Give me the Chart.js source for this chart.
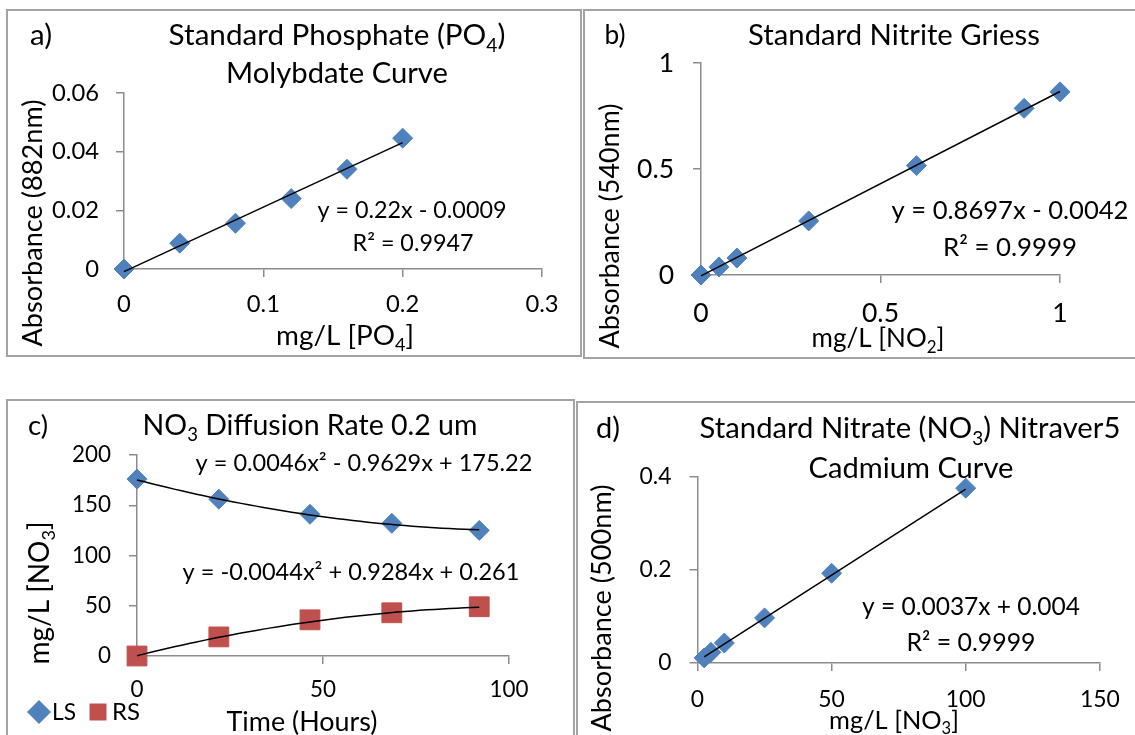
<!DOCTYPE html>
<html>
<head>
<meta charset="utf-8">
<script src="https://cdn.jsdelivr.net/npm/chart.js@4.4.0/dist/chart.umd.min.js"></script>
<style>
  body { margin: 0; background: #fff; width: 1135px; height: 735px; overflow: hidden; position: relative; }
  .panel { position: absolute; border: 2px solid #a3a3a3; box-sizing: border-box; }
  canvas { position: absolute; }
</style>
</head>
<body>
<div class="panel" style="left:6px;top:9px;width:576px;height:348px"></div>
<div class="panel" style="left:583px;top:9px;width:600px;height:350px"></div>
<div class="panel" style="left:6px;top:399px;width:569px;height:400px"></div>
<div class="panel" style="left:576px;top:401px;width:600px;height:400px"></div>
<canvas id="chartA" width="576" height="348" style="left:6px;top:9px"></canvas>
<canvas id="chartB" width="552" height="350" style="left:583px;top:9px"></canvas>
<canvas id="chartC" width="569" height="336" style="left:6px;top:399px"></canvas>
<canvas id="chartD" width="559" height="334" style="left:576px;top:401px"></canvas>
<script>
// a) phosphate standard
const phosphateConc = [0, 0.04, 0.08, 0.12, 0.16, 0.2];
const phosphateAbs = [0, 0.0088, 0.0156, 0.024, 0.034, 0.0446];
const phosphateFit = [0.22, -0.0009];
// b) nitrite standard
const nitriteConc = [0, 0.05, 0.1, 0.3, 0.6, 0.9, 1];
const nitriteAbs = [0, 0.038, 0.08, 0.255, 0.516, 0.786, 0.864];
const nitriteFit = [0.8697, -0.0042];
// c) diffusion
const diffusionHours = [0, 22, 46.5, 68.5, 92];
const lsNitrate = [176, 156, 141, 132, 125];
const rsNitrate = [0, 19, 36, 43, 49];
const lsFit = [0.0046, -0.9629, 175.22];
const rsFit = [-0.0044, 0.9284, 0.261];
// d) nitrate standard
const nitrateConc = [2.5, 5, 10, 25, 50, 100];
const nitrateAbs = [0.011, 0.023, 0.043, 0.097, 0.193, 0.376];
const nitrateFit = [0.0037, 0.004];

const BLUE = '#4f81bd';
const RED = '#c0504d';
const AXIS = '#8c8c8c';
Chart.defaults.font.family = 'Lato';
Chart.defaults.color = '#000';

const pts = (xs, ys) => xs.map((x, i) => ({ x: x, y: ys[i] }));
const linePts = (fit, x0, x1) => [x0, x1].map(x => ({ x: x, y: fit[0] * x + fit[1] }));
const quadPts = (fit, x0, x1) => {
  const out = [];
  for (let x = x0; x <= x1; x += 2) out.push({ x: x, y: fit[0] * x * x + fit[1] * x + fit[2] });
  return out;
};

// font size that makes a string (with _N subscripts) span a given width
const meter = document.createElement('canvas').getContext('2d');
function fitSize(str, width) {
  let w = 0;
  str.split(/_(\d)/).forEach((p, i) => {
    meter.font = (i % 2 ? 65 : 100) + 'px Lato';
    w += meter.measureText(p).width;
  });
  return 100 * width / w;
}

// text with _N subscripts, centred at x,y
function drawRich(ctx, str, x, y, size, rot) {
  const parts = str.split(/_(\d)/);
  const fontN = size + 'px Lato', fontS = (size * 0.65) + 'px Lato';
  let total = 0;
  parts.forEach((p, i) => { ctx.font = i % 2 ? fontS : fontN; total += ctx.measureText(p).width; });
  ctx.save();
  ctx.translate(x, y);
  if (rot) ctx.rotate(rot);
  ctx.fillStyle = '#000';
  ctx.textBaseline = 'alphabetic';
  let cx = -total / 2;
  const base = size * 0.35;
  parts.forEach((p, i) => {
    ctx.font = i % 2 ? fontS : fontN;
    ctx.fillText(p, cx, i % 2 ? base + size * 0.22 : base);
    cx += ctx.measureText(p).width;
  });
  ctx.restore();
}

// [text, centre x, centre y, width, rotation] in page pixels
const notes = (ox, oy, items) => ({
  id: 'notes',
  afterDraw(chart) {
    items.forEach(it => drawRich(chart.ctx, it[0], it[1] - ox, it[2] - oy, fitSize(it[0], it[3]), it[4]));
  }
});

const tickText = v => String(Math.round(v * 1e6) / 1e6);
function xAxis(min, max, step, height, labelOffset, size) {
  return {
    type: 'linear', min: min, max: max,
    ticks: { stepSize: step, padding: labelOffset - 8 - 0.6 * size, font: { size: size }, callback: tickText },
    grid: { drawOnChartArea: false, tickLength: 8, color: AXIS, lineWidth: 1.5 },
    border: { color: AXIS, width: 1.5 },
    afterFit: s => { s.height = height; }
  };
}
function yAxis(min, max, step, width, pad, size) {
  return {
    type: 'linear', min: min, max: max,
    ticks: { stepSize: step, padding: pad, font: { size: size }, callback: tickText },
    grid: { drawOnChartArea: false, tickLength: 8, color: AXIS, lineWidth: 1.5 },
    border: { color: AXIS, width: 1.5 },
    afterFit: s => { s.width = width; }
  };
}
const markers = (label, data, color, style, r) => ({
  label: label, data: data, pointStyle: style, pointRadius: r, pointHoverRadius: r,
  backgroundColor: color, borderColor: color, borderWidth: 1, showLine: false, clip: false
});
const fitLine = data => ({
  label: '', data: data, showLine: true, pointRadius: 0, borderColor: '#000',
  borderWidth: 1.5, clip: false, tension: 0
});
const basePlugins = { legend: { display: false }, tooltip: { enabled: false } };

// legend of panel c: [dataset index, marker x, marker y, radius]
const legendC = {
  id: 'legendC',
  afterDraw(chart) {
    const ctx = chart.ctx;
    [[2, 39, 712, 12], [3, 98, 712, 12]].forEach(e => {
      const ds = chart.data.datasets[e[0]];
      ctx.save();
      ctx.fillStyle = ds.backgroundColor;
      Chart.helpers.drawPoint(ctx, { pointStyle: ds.pointStyle, radius: e[3], borderWidth: 0, rotation: 0 }, e[1] - 6, e[2] - 399);
      ctx.restore();
    });
  }
};

let ts = fitSize('0.06', 47);
new Chart(document.getElementById('chartA'), {
  type: 'scatter',
  data: { datasets: [
    fitLine(linePts(phosphateFit, 0, 0.2)),
    markers('PO4', pts(phosphateConc, phosphateAbs), BLUE, 'rectRot', 10)
  ] },
  options: {
    responsive: false, animation: false, events: [],
    layout: { padding: { left: 0, top: 84, right: 40, bottom: 0 } },
    scales: { x: xAxis(0, 0.3, 0.1, 88, 35, ts), y: yAxis(0, 0.06, 0.02, 118, 17, ts) },
    plugins: basePlugins
  },
  plugins: [notes(6, 9, [
    ['a)', 41, 35, 22],
    ['Standard Phosphate (PO_4)', 337, 35, 337],
    ['Molybdate Curve', 337, 73, 222],
    ['y = 0.22x - 0.0009', 412, 210, 189],
    ['R² = 0.9947', 413, 243, 121],
    ['Absorbance (882nm)', 33, 223, 247, -Math.PI / 2],
    ['mg/L [PO_4]', 345, 335, 138]
  ])]
});

ts = fitSize('0.5', 37);
new Chart(document.getElementById('chartB'), {
  type: 'scatter',
  data: { datasets: [
    fitLine(linePts(nitriteFit, 0, 1)),
    markers('NO2', pts(nitriteConc, nitriteAbs), BLUE, 'rectRot', 10)
  ] },
  options: {
    responsive: false, animation: false, events: [],
    layout: { padding: { left: 0, top: 54, right: 75, bottom: 0 } },
    scales: { x: xAxis(0, 1, 0.5, 84, 38, ts), y: yAxis(0, 1, 0.5, 118, 19, ts) },
    plugins: basePlugins
  },
  plugins: [notes(583, 9, [
    ['b)', 615, 35, 21],
    ['Standard Nitrite Griess', 894, 35, 292],
    ['y = 0.8697x - 0.0042', 1010, 210, 237],
    ['R² = 0.9999', 1010, 247, 134],
    ['Absorbance (540nm)', 610, 226, 245, -Math.PI / 2],
    ['mg/L [NO_2]', 878, 338, 133]
  ])]
});

ts = fitSize('200', 39);
new Chart(document.getElementById('chartC'), {
  type: 'scatter',
  data: { datasets: [
    fitLine(quadPts(lsFit, 0, 92)),
    fitLine(quadPts(rsFit, 0, 92)),
    markers('LS', pts(diffusionHours, lsNitrate), BLUE, 'rectRot', 10),
    markers('RS', pts(diffusionHours, rsNitrate), RED, 'rect', 14)
  ] },
  options: {
    responsive: false, animation: false, events: [],
    layout: { padding: { left: 0, top: 56, right: 66, bottom: 1 } },
    scales: { x: xAxis(0, 100, 50, 78, 34, ts), y: yAxis(0, 200, 50, 131, 18, ts) },
    plugins: basePlugins
  },
  plugins: [legendC, notes(6, 399, [
    ['c)', 38, 425, 20],
    ['NO_3 Diffusion Rate 0.2 um', 310, 425, 335],
    ['y = 0.0046x² - 0.9629x + 175.22', 364, 463, 337],
    ['y = -0.0044x² + 0.9284x + 0.261', 351, 572, 337],
    ['mg/L [NO_3]', 39, 593, 143, -Math.PI / 2],
    ['Time (Hours)', 302, 722, 151],
    ['LS', 64, 712, 24],
    ['RS', 126, 712, 28]
  ])]
});

ts = fitSize('0.4', 32);
new Chart(document.getElementById('chartD'), {
  type: 'scatter',
  data: { datasets: [
    fitLine(linePts(nitrateFit, 2.5, 100)),
    markers('NO3', pts(nitrateConc, nitrateAbs), BLUE, 'rectRot', 10)
  ] },
  options: {
    responsive: false, animation: false, events: [],
    layout: { padding: { left: 0, top: 76, right: 22.5, bottom: 0 } },
    scales: { x: xAxis(0, 150, 50, 72, 37, ts), y: yAxis(0, 0.4, 0.2, 121.5, 18, ts) },
    plugins: basePlugins
  },
  plugins: [notes(576, 401, [
    ['d)', 608, 428, 24],
    ['Standard Nitrate (NO_3) Nitraver5', 910, 428, 421],
    ['Cadmium Curve', 911, 468, 205],
    ['y = 0.0037x + 0.004', 971, 606, 218],
    ['R² = 0.9999', 971, 642, 129],
    ['Absorbance (500nm)', 602, 608, 247, -Math.PI / 2],
    ['mg/L [NO_3]', 894, 720, 130]
  ])]
});
</script>
</body>
</html>
